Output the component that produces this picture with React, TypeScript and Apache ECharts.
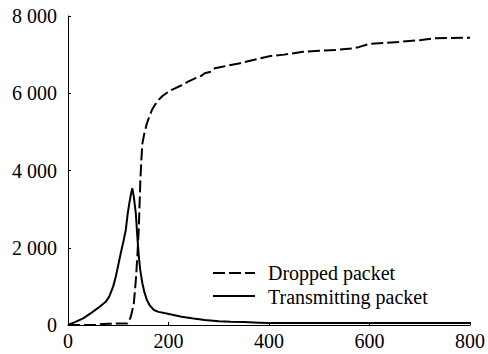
import React, { useEffect, useRef, useState } from "react";
import * as echarts from "echarts";

const xTicks = [0, 200, 400, 600, 800];
const yTicks = [0, 2000, 4000, 6000, 8000];
const seriesNames = ["Dropped packet", "Transmitting packet"];

const dropped: [number, number][] = [
  [0, 0], [20, 0], [40, 0], [60, 0], [63, 20], [80, 30], [100, 40], [118, 40],
  [122, 120], [125, 216], [128, 380], [131, 561], [135, 1165], [138, 1768],
  [141, 2545], [142.5, 3150], [144, 3750], [146, 4270], [148, 4700], [152, 4963],
  [157, 5222], [162, 5400], [167, 5566], [173, 5700], [180, 5825], [188, 5930],
  [197, 6014], [205, 6080], [213, 6128], [225, 6200], [239, 6300], [255, 6400],
  [265, 6450], [272, 6516], [285, 6560], [292, 6645], [305, 6680], [324, 6731],
  [340, 6770], [354, 6817], [375, 6880], [403, 6964], [430, 7000], [468, 7076],
  [500, 7100], [533, 7120], [566, 7163], [580, 7200], [599, 7275], [630, 7300],
  [664, 7335], [703, 7379], [729, 7422], [760, 7430], [800, 7439],
];

const transmitting: [number, number][] = [
  [0, 0], [15, 80], [30, 173], [45, 300], [63, 474], [75, 600], [82, 733],
  [90, 1000], [95, 1250], [100, 1550], [105, 1856], [110, 2150], [115, 2460],
  [119, 2900], [122, 3150], [125, 3366], [128, 3539], [131, 3323], [133, 3100],
  [135, 2890], [138, 2286], [141, 1768], [144, 1400], [148, 1080], [152, 850],
  [157, 647], [163, 500], [171, 388], [180, 340], [194, 302], [210, 260],
  [226, 216], [250, 170], [272, 130], [300, 100], [324, 86], [350, 75],
  [380, 60], [400, 50], [500, 50], [600, 50], [700, 50], [800, 50],
];

const FONT = "Liberation Serif";

export default function App() {
  const ref = useRef<HTMLDivElement>(null);
  const [info, setInfo] = useState("");
  useEffect(() => {
    document.body.style.margin = "0";
    if (!ref.current) return;
    const chart = echarts.init(ref.current, null, { renderer: "svg" });
    const fmt = (v: number) => String(v).replace(/\B(?=(\d{3})+(?!\d))/g, " ");
    chart.setOption({
      animation: false,
      backgroundColor: "#fff",
      grid: { left: 68, right: 12, top: 16, bottom: 29 },
      xAxis: {
        type: "value",
        min: xTicks[0],
        max: xTicks[xTicks.length - 1],
        interval: 200,
        splitLine: { show: false },
        axisLine: { lineStyle: { color: "#000", width: 1 } },
        axisTick: { inside: true, length: 3, lineStyle: { color: "#000" } },
        axisLabel: { color: "#000", fontSize: 20, fontFamily: FONT, margin: 6 },
      },
      yAxis: {
        type: "value",
        min: yTicks[0],
        max: yTicks[yTicks.length - 1],
        interval: 2000,
        splitLine: { show: false },
        axisLine: { show: true, lineStyle: { color: "#000", width: 1 } },
        axisTick: { show: true, inside: true, length: 3, lineStyle: { color: "#000" } },
        axisLabel: { color: "#000", fontSize: 20, fontFamily: FONT, margin: 11, formatter: fmt },
      },
      graphic: [
        { type: "line", shape: { x1: 213, y1: 273, x2: 255, y2: 273 }, style: { stroke: "#000", lineWidth: 2, lineDash: [12, 4] } },
        { type: "line", shape: { x1: 213, y1: 296, x2: 255, y2: 296 }, style: { stroke: "#000", lineWidth: 2 } },
        { type: "text", x: 268, y: 273, style: { text: seriesNames[0], fill: "#000", fontFamily: FONT, fontSize: 20, verticalAlign: "middle" } },
        { type: "text", x: 268, y: 297, style: { text: seriesNames[1], fill: "#000", fontFamily: FONT, fontSize: 20, verticalAlign: "middle" } },
      ],
      series: [
        {
          name: seriesNames[0],
          type: "line",
          data: dropped,
          symbol: "none",
          lineStyle: { color: "#000", width: 2, type: [12, 4] },
        },
        {
          name: seriesNames[1],
          type: "line",
          data: transmitting,
          symbol: "none",
          lineStyle: { color: "#000", width: 2 },
        },
      ],
    });
    setInfo(" ");
    return () => chart.dispose();
  }, []);
  return (
    <div style={{ fontFamily: FONT }}>
      <span style={{ position: "absolute", left: 0, top: 0, fontFamily: FONT, color: "transparent", fontSize: 1 }}>{"\u00A0"}{info}</span>
      <div ref={ref} style={{ width: 488, height: 354 }} />
    </div>
  );
}
